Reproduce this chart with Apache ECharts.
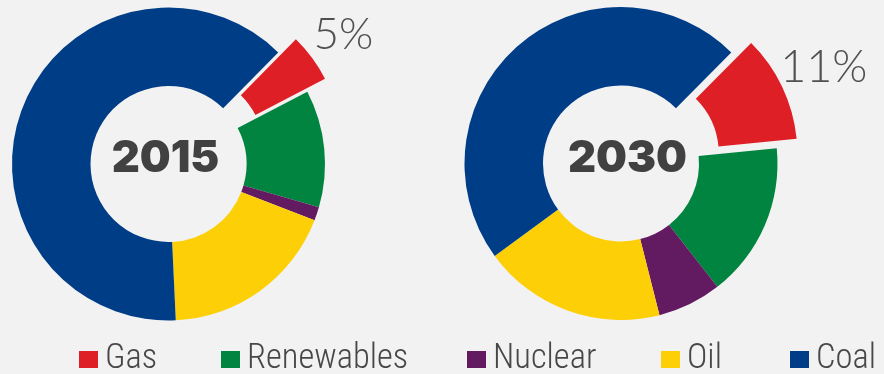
<!DOCTYPE html>
<html>
<head>
<meta charset="utf-8">
<script src="https://cdn.jsdelivr.net/npm/echarts@6/dist/echarts.min.js"></script>
<style>
  html, body { margin: 0; padding: 0; background: #f2f2f2; }
  #chart { width: 884px; height: 374px; }
</style>
</head>
<body>
<div id="chart"></div>
<script>
// Energy mix, share of total (%)
const sources = ['Gas', 'Renewables', 'Nuclear', 'Oil', 'Coal'];
const colors = ['#df1f26', '#00843f', '#621a60', '#fccf07', '#003d87'];
const years = ['2015', '2030'];
const mix2015 = [5, 12.1, 1.4, 18.4, 63.1];
const mix2030 = [11, 16, 6.6, 18.9, 47.5];

const thinFont = "'Lato', 'Open Sans', sans-serif";
const narrowFont = "'Roboto Condensed', 'Liberation Sans Narrow', 'DejaVu Sans Condensed', sans-serif";
const heavyFont = "'Inter', 'Lato', sans-serif";

function pieData(values, labelSize) {
  return sources.map((name, i) => {
    const item = { name: name, value: values[i] };
    if (i === 0) {
      // the gas slice is pulled out and carries its share as a label
      item.selected = true;
      item.label = {
        show: true,
        position: 'outside',
        formatter: '{c}%',
        fontFamily: thinFont,
        fontWeight: 300,
        fontSize: labelSize,
        color: '#505050',
        distanceToLabelLine: 0
      };
    }
    return item;
  });
}

function donut(center, values, startAngle, lineLen, labelSize) {
  return {
    type: 'pie',
    center: center,
    radius: [78, 156.5],
    startAngle: startAngle,
    clockwise: true,
    selectedMode: 'single',
    selectedOffset: 22,
    avoidLabelOverlap: false,
    label: { show: false },
    labelLine: { show: false, length: lineLen, length2: 0 },
    labelLayout: { align: 'center', verticalAlign: 'middle' },
    emphasis: { scale: false },
    itemStyle: { borderWidth: 0 },
    data: pieData(values, labelSize)
  };
}

const legendLefts = [79, 221, 467, 661, 790];

const chart = echarts.init(document.getElementById('chart'), null, { renderer: 'canvas' });
chart.setOption({
  backgroundColor: '#f2f2f2',
  animation: false,
  color: colors,
  legend: sources.map((name, i) => ({
    data: [name],
    left: legendLefts[i],
    top: 342,
    padding: 0,
    icon: 'rect',
    itemWidth: 19,
    itemHeight: 17,
    selectedMode: false,
    textStyle: {
      fontFamily: narrowFont,
      fontWeight: 300,
      fontSize: 34.5,
      lineHeight: 34,
      color: '#474747',
      padding: [0, 0, 0, 2]
    }
  })),
  graphic: [
    { type: 'text', x: 165.5, y: 158.5, style: { text: years[0], align: 'center', verticalAlign: 'middle', font: '900 43.5px ' + heavyFont, fill: '#414141' } },
    { type: 'text', x: 627.5, y: 158.5, style: { text: years[1], align: 'center', verticalAlign: 'middle', font: '900 43.5px ' + heavyFont, fill: '#414141' } }
  ],
  series: [
    donut([168.5, 164], mix2015, 45.5, 39, 44),
    donut([621, 163.5], mix2030, 45.2, 46, 45)
  ]
});
</script>
</body>
</html>
